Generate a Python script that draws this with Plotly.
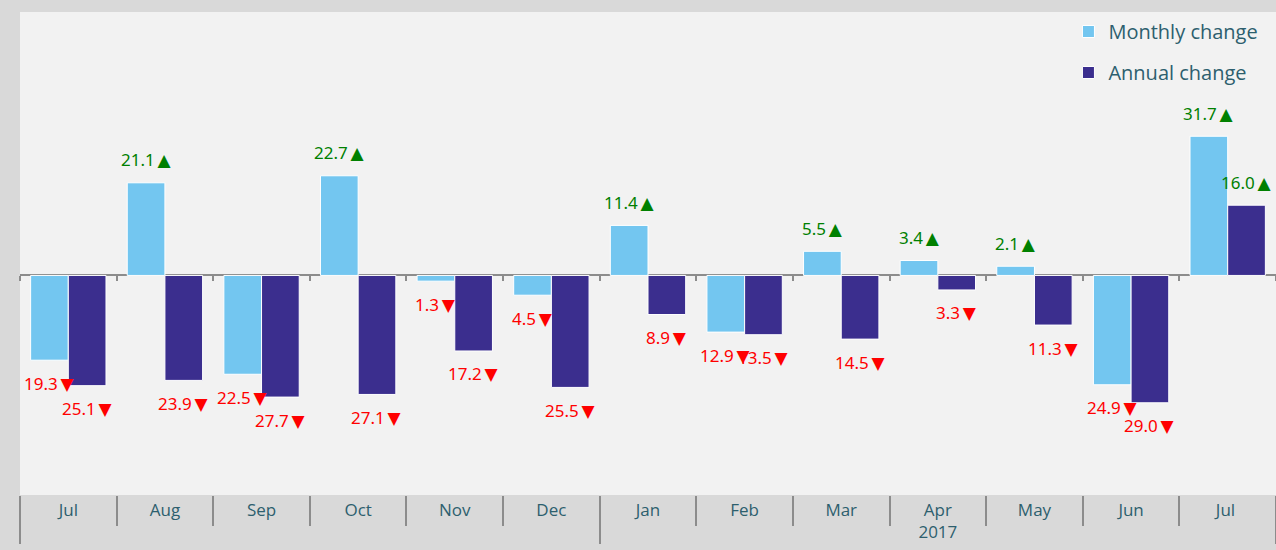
import plotly.graph_objects as go

# Chart data
years = [" "] * 6 + ["2017"] * 7
# trailing space on the second "Jul" keeps it a distinct category at the end
months = ["Jul", "Aug", "Sep", "Oct", "Nov", "Dec",
          "Jan", "Feb", "Mar", "Apr", "May", "Jun", "Jul "]
monthly_change = [-19.3, 21.1, -22.5, 22.7, -1.3, -4.5,
                  11.4, -12.9, 5.5, 3.4, 2.1, -24.9, 31.7]
annual_change = [-25.1, -23.9, -27.7, -27.1, -17.2, -25.5,
                 -8.9, -13.5, -14.5, -3.3, -11.3, -29.0, 16.0]

LIGHT = "#73c6f0"
DARK = "#3b2e8e"
TEXT = "#2d5f6e"
FONT = "Open Sans"
LABEL_FONT = "Noto Sans, DejaVu Sans"
BARGAP = 0.22

fig = go.Figure()

fig.add_trace(go.Bar(
    x=[years, months], y=monthly_change, name="Monthly change",
    marker=dict(color=LIGHT, line=dict(color="white", width=1)),
    legendgroup="m",
))
fig.add_trace(go.Bar(
    x=[years, months], y=annual_change, name="Annual change",
    marker=dict(color=DARK, line=dict(color="white", width=1)),
    legendgroup="a",
))

# dummy trace so the zero-line tick axis gets drawn
fig.add_trace(go.Scatter(
    x=list(range(len(months))), y=[None] * len(months),
    xaxis="x2", showlegend=False, hoverinfo="skip",
))

# value labels with up/down arrows
half = (1 - BARGAP) / 4
for series, shift in ((monthly_change, -half), (annual_change, half)):
    for i, v in enumerate(series):
        up = v >= 0
        fig.add_annotation(
            x=i + shift, y=v, xref="x", yref="y",
            text=f"{abs(v):.1f}\u2009{'▲' if up else '▼'}",
            showarrow=False,
            yshift=23 if up else -23,
            font=dict(family=LABEL_FONT, size=17, color="green" if up else "red"),
        )

y_min, y_max = -50, 60

fig.update_layout(
    width=1276, height=550,
    margin=dict(l=20, r=0, t=12, b=55),
    paper_bgcolor="#d9d9d9",
    plot_bgcolor="#f2f2f2",
    barmode="group",
    bargap=BARGAP,
    bargroupgap=0,
    font=dict(family=FONT, color=TEXT),
    showlegend=True,
    legend=dict(
        x=0.99, xanchor="right", y=1, yanchor="top",
        bgcolor="rgba(0,0,0,0)",
        font=dict(family=FONT, size=20, color=TEXT),
        tracegroupgap=12,
        itemclick=False,
    ),
    xaxis=dict(
        type="multicategory",
        showgrid=False,
        ticks="outside", ticklen=30, tickwidth=2, tickcolor="#8c8c8c",
        tickfont=dict(family=FONT, size=17, color=TEXT),
        ticklabelstandoff=3,
        showdividers=True, dividercolor="#8c8c8c", dividerwidth=2,
        zeroline=False,
    ),
    xaxis2=dict(
        overlaying="x", anchor="free",
        position=(0 - y_min) / (y_max - y_min),
        range=[-0.5, len(months) - 0.5],
        tickmode="array",
        tickvals=[i - 0.5 for i in range(len(months) + 1)],
        ticks="outside", ticklen=5, tickwidth=2, tickcolor="#8c8c8c",
        showticklabels=False, showgrid=False, zeroline=False, showline=False,
    ),
    yaxis=dict(
        range=[y_min, y_max],
        showgrid=False, showticklabels=False, ticks="",
        zeroline=True, zerolinecolor="#8c8c8c", zerolinewidth=2,
    ),
)

fig.write_html(
    "out.html",
    config={"displayModeBar": False},
    post_script="document.body.style.margin='0';",
)
